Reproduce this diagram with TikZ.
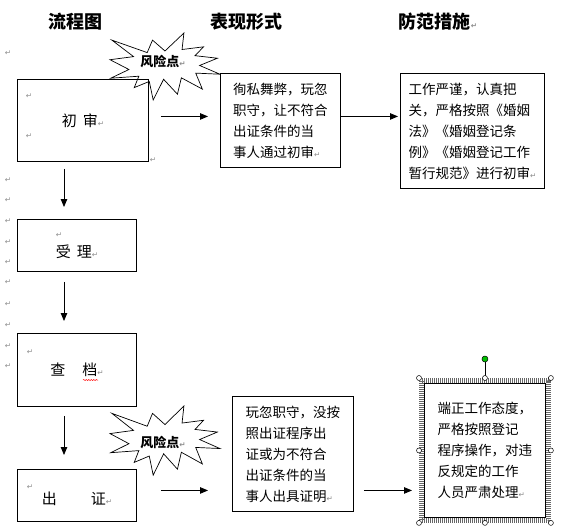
\documentclass[tikz,border=0pt]{standalone}
\usepackage{fontspec}
\setmainfont{Noto Sans CJK SC}
\newfontfamily\markfont{DejaVu Sans}
\usetikzlibrary{arrows.meta,positioning,fit,calc,decorations.pathmorphing}

% paragraph mark of the word processor
\newcommand\pmark{{\markfont\fontsize{7.5}{7.5}\selectfont\color{black!45}↵}}

\begin{document}
\begin{tikzpicture}[
  x=1pt, y=-1pt,
  font=\fontsize{13.5}{21}\selectfont,
  flow/.style={draw, line width=0.9pt, anchor=north west, inner sep=0pt,
    font=\fontsize{15}{20}\selectfont},
  txt/.style={draw, line width=0.9pt, fill=white, anchor=north west,
    align=left, inner sep=0pt},
  hdr/.style={font=\fontsize{18}{18}\selectfont\bfseries},
  risk/.style={font=\fontsize{13}{13}\selectfont\bfseries, inner sep=1pt},
  arr/.style={-{Triangle[length=8pt,width=6.5pt]}, line width=0.8pt},
  pm/.style={inner sep=0pt},
  selframe/.style={draw=black!60, line width=5pt, dash pattern=on 1pt off 1pt,
    inner sep=2.5pt},
  handle/.style={circle, draw, fill=white, inner sep=0pt, minimum size=5pt,
    line width=0.5pt},
  seal/.pic={
    \draw[fill=white, line width=0.7pt] (108,58) -- (145.22,0) -- (141.55,53.25)
      -- (183.8,44.57) -- (167.02,73.15) -- (210.97,81.37) -- (176.07,104.75)
      -- (216,132.9) -- (168.37,129.42) -- (181.45,180.95) -- (140.2,144.57)
      -- (132.47,197.37) -- (105.32,149.35) -- (84.85,216) -- (77.15,156.27)
      -- (47.62,176.17) -- (56.67,139.37) -- (1.35,145.87) -- (37.22,117.75)
      -- (0,86.15) -- (46.27,76.17) -- (3.7,22.95) -- (73.12,63.2)
      -- (83.52,22.95) -- cycle;
  }
]
\useasboundingbox (0,0) rectangle (572,528);

% ── column heads ─────────────────────────────────────────────────────────
\node[hdr] (hflow) at (75,22) {流程图};
\node[hdr] (hform) at (246,22) {表现形式};
\node[hdr] (hmeas) at (438,22) {防范措施\pmark};

% ── risk points ──────────────────────────────────────────────────────────
\begin{scope}[shift={(110,33)}, x=0.509pt, y=-0.31pt]
  \pic (sealA) {seal};
\end{scope}
\node[risk] (riskA) at (163,62) {风险点\pmark};
\begin{scope}[shift={(110,406)}, x=0.509pt, y=-0.32pt]
  \pic (sealB) {seal};
\end{scope}
\node[risk] (riskB) at (163,442) {风险点\pmark};

% ── flow chart ───────────────────────────────────────────────────────────
\node[flow, minimum width=131pt, minimum height=82pt] (chushen) at (17,79) {初\hspace{6pt}审\pmark};
\node[flow, minimum width=119pt, minimum height=52pt, align=left] (shouli) at (17,219)
  {\pmark\\受\hspace{6pt}理\pmark};
\node[flow, minimum width=119pt, minimum height=73pt] (chadang) at (17,333) {查\hspace{17pt}档\pmark};
\node[flow, minimum width=119pt, minimum height=52pt, align=left] (chuzheng) at (17,469)
  {\mbox{}\\出\hspace{34pt}证\pmark};
\draw[red, line width=0.5pt, decorate, decoration={snake, amplitude=0.6pt, segment length=2.5pt}]
  (83,380) -- (98,380);

\coordinate (spine) at (64,0);
\draw[arr, shorten <=7pt, shorten >=12pt] (chushen.south -| spine) -- (shouli.north -| spine);
\draw[arr, shorten <=10pt, shorten >=12pt] (shouli.south -| spine) -- (chadang.north -| spine);
\draw[arr, shorten <=9pt, shorten >=14pt] (chadang.south -| spine) -- (chuzheng.north -| spine);

% ── forms and measures ───────────────────────────────────────────────────
\node[txt, minimum width=120pt, minimum height=94pt] (xusi) at (220,73)
  {徇私舞弊，玩忽\\职守，让不符合\\出证条件的当\\事人通过初审\pmark};
\node[txt, minimum width=144pt, minimum height=115pt] (yanjin) at (400,73)
  {工作严谨，认真把\\关，严格按照《婚姻\\法》《婚姻登记条\\例》《婚姻登记工作\\暂行规范》进行初审\pmark};
\node[txt, minimum width=121pt, minimum height=115pt] (wanhu) at (232,396)
  {玩忽职守，没按\\照出证程序出\\证或为不符合\\出证条件的当\\事人出具证明\pmark};
\node[txt, minimum width=121pt, minimum height=134pt] (duanzheng) at (424,383)
  {端正工作态度，\\严格按照登记\\程序操作，对违\\反规定的工作\\人员严肃处理\pmark};

\coordinate (rowA) at ([yshift=4pt]chushen.east);
\draw[arr, shorten <=12pt, shorten >=12pt] (rowA) -- (rowA -| xusi.west);
\draw[arr, shorten >=2pt] (rowA -| xusi.east) -- (rowA -| yanjin.west);
\coordinate (rowB) at ([yshift=5pt]chuzheng.east);
\draw[arr, shorten <=24pt, shorten >=24pt] (rowB) -- (rowB -| wanhu.west);
\draw[arr, shorten <=10pt, shorten >=12pt] (rowB -| wanhu.east) -- (rowB -| duanzheng.west);

% selection frame round the last box
\node[selframe, fit=(duanzheng)] (sel) {};
\node[handle, fill=green!75!black, minimum size=6pt] (rot) at ([yshift=19pt]sel.north) {};
\draw[line width=0.6pt] (rot) -- (sel.north);
\foreach \a in {north west,north,north east,west,east,south west,south,south east}
  \node[handle] (h-\a) at (sel.\a) {};

% ── paragraph marks ──────────────────────────────────────────────────────
\foreach \y in {53,180,200,221,242,262,282,304,325,346,366}
  \node[pm] (m\y) at (8,\y) {\pmark};
\node[pm] (mA) at (29,96) {\pmark};
\node[pm] (mB) at (29,136) {\pmark};
\node[pm] (mC) at (153,160) {\pmark};
\node[pm] (mD) at (30,352) {\pmark};
\node[pm] (mE) at (30,487) {\pmark};

\end{tikzpicture}
\end{document}
